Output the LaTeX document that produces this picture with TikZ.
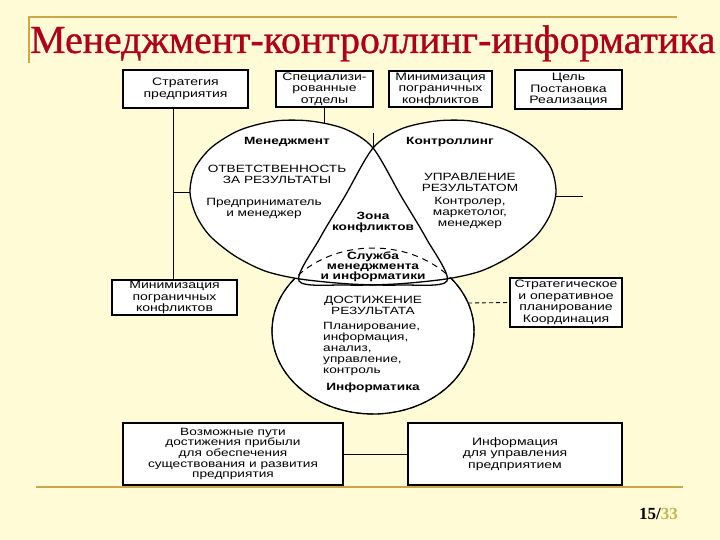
\documentclass[tikz,border=0pt]{standalone}
\usepackage{fontspec}
\setmainfont{Liberation Serif}
\newfontfamily\dfont{Liberation Sans}[FakeStretch=1.3]
\newfontfamily\titlefont{Liberation Serif}[FakeBold=0.8]
\definecolor{bg}{RGB}{255,251,214}
\definecolor{gold}{RGB}{204,168,72}
\definecolor{titlered}{RGB}{176,0,24}
\definecolor{numgold}{RGB}{200,180,80}
\begin{document}
\begin{tikzpicture}[x=1pt,y=-1pt,
  box/.style={draw=black, line width=1.3pt, fill=white, inner sep=0pt, align=center, font=\dfont\fontsize{10.8}{11.5}\selectfont},
  txt/.style={align=center, inner sep=0pt, font=\dfont\fontsize{10.5}{11}\selectfont},
  btxt/.style={align=center, inner sep=0pt, font=\dfont\bfseries\fontsize{10.5}{11}\selectfont},
  conn/.style={line width=0.9pt},
  venn/.style={line width=1.3pt}]
\useasboundingbox (0,0) rectangle (720,540);
\fill[bg] (0,0) rectangle (720,540);
% decorative gold lines
\draw[gold, line width=2pt] (29,63) -- (29,17) -- (677,17);
\draw[gold, line width=2.5pt] (36,487) -- (683,487);
% title and page number
\node[anchor=base west, inner sep=0pt, text=titlered, font=\titlefont\fontsize{39.8}{44}\selectfont] (title) at (30,53) {Менеджмент-контроллинг-информатика};
\node[anchor=base east, inner sep=0pt, font=\bfseries\fontsize{17}{19}\selectfont] (pnum) at (678,519) {15/\textcolor{numgold}{33}};
% boxes
\node[box, minimum width=125pt, minimum height=38pt] (b1) at (185.5,89) {Стратегия\\предприятия};
\node[box, minimum width=97pt, minimum height=36pt] (b2) at (324.5,89) {Специализи-\\рованные\\отделы};
\node[box, minimum width=103pt, minimum height=36pt] (b3) at (440.5,89) {Минимизация\\пограничных\\конфликтов};
\node[box, minimum width=107pt, minimum height=39pt] (b4) at (568.5,89.5) {Цель\\Постановка\\Реализация};
\node[box, minimum width=125pt, minimum height=35pt] (ml) at (174.5,297.5) {Минимизация\\пограничных\\конфликтов};
\node[box, minimum width=112pt, minimum height=49pt] (mr) at (566,302.5) {Стратегическое\\и оперативное\\планирование\\Координация};
\node[box, minimum width=220pt, minimum height=62pt, font=\dfont\fontsize{10.5}{10.7}\selectfont] (bl) at (233,454) {Возможные пути\\достижения прибыли\\для обеспечения\\существования и развития\\предприятия};
\node[box, minimum width=214pt, minimum height=62pt] (br) at (515,454) {Информация\\для управления\\предприятием};
% Venn shapes: fills
\filldraw[fill=white, venn] (373,331) ellipse [x radius=101pt, y radius=83pt];
\fill[white] plot[smooth cycle] coordinates {(373,148) (345,129) (310,121) (275,121) (240,130) (212,147) (195,168) (190,192) (196,215) (210,236) (235,256) (265,271) (300,279) (350,284) (400,285) (447,281) (426,238) (401,196)};
\fill[white] plot[smooth cycle] coordinates {(373,148) (401,129) (436,121) (471,121) (506,130) (534,147) (551,168) (556,192) (550,215) (536,236) (511,256) (481,271) (446,279) (396,284) (346,285) (299,281) (320,238) (345,196)};
% dashed top of Информатика
\draw[line width=1pt, dash pattern=on 6pt off 5pt] (373,331) ellipse [x radius=101pt, y radius=83pt];
% outlines
\draw[venn] plot[smooth cycle] coordinates {(373,148) (345,129) (310,121) (275,121) (240,130) (212,147) (195,168) (190,192) (196,215) (210,236) (235,256) (265,271) (300,279) (350,284) (400,285) (447,281) (426,238) (401,196)};
\draw[venn] plot[smooth cycle] coordinates {(373,148) (401,129) (436,121) (471,121) (506,130) (534,147) (551,168) (556,192) (550,215) (536,236) (511,256) (481,271) (446,279) (396,284) (346,285) (299,281) (320,238) (345,196)};
% connector points
\coordinate (j1) at (173,192);
\coordinate (e1l) at (190,192);
\coordinate (e1t) at (324.5,123);
\coordinate (top) at (373,148);
\coordinate (stubtop) at (373,133);
\coordinate (e2r) at (556,196);
\coordinate (stubr) at (583,196);
\coordinate (e3r) at (468,303);
% connectors
\draw[conn] (b1.south -| j1) -- (ml.north -| j1);
\draw[conn] (j1) -- (e1l);
\draw[conn] (b2.south) -- (e1t);
\draw[conn] (stubtop) -- (top);
\draw[conn] (e2r) -- (stubr);
\draw[conn, dash pattern=on 4pt off 3pt] (e3r) -- (mr.west);
\draw[conn] (bl.east) -- (br.west);
% Venn texts
\node[btxt] (tman) at (287,142) {Менеджмент};
\node[btxt] (tcon) at (450,142) {Контроллинг};
\node[txt] (tresp) at (277,174) {ОТВЕТСТВЕННОСТЬ\\ЗА РЕЗУЛЬТАТЫ};
\node[txt] (tent) at (264,208) {Предприниматель\\и менеджер};
\node[btxt] (tzone) at (373,222.5) {Зона\\конфликтов};
\node[txt] (tupr) at (470,182) {УПРАВЛЕНИЕ\\РЕЗУЛЬТАТОМ};
\node[txt] (tctl) at (470,213) {Контролер,\\маркетолог,\\менеджер};
\node[btxt, font=\dfont\bfseries\fontsize{10.5}{10}\selectfont] (tserv) at (373,266.5) {Служба\\менеджмента\\и информатики};
\node[txt] (tach) at (373,305) {ДОСТИЖЕНИЕ\\РЕЗУЛЬТАТА};
\node[txt, align=left, anchor=west] (tplan) at (323,348.5) {Планирование,\\информация,\\анализ,\\управление,\\контроль};
\node[btxt] (tinf) at (373,388) {Информатика};
\end{tikzpicture}
\end{document}
